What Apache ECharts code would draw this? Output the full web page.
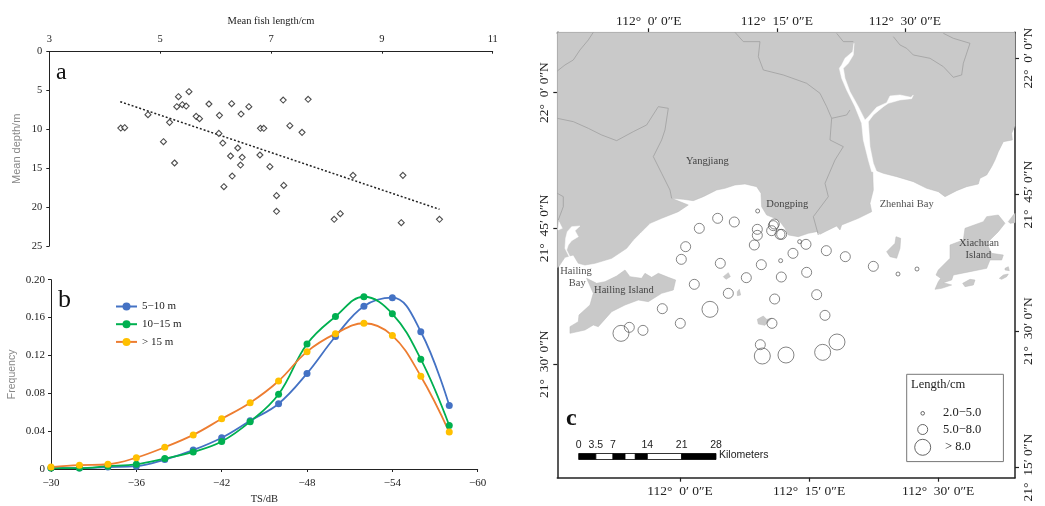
<!DOCTYPE html>
<html><head><meta charset="utf-8">
<script src="https://cdn.jsdelivr.net/npm/echarts@6/dist/echarts.min.js"></script>
<style>html,body{margin:0;padding:0;background:#fff}#c{width:1045px;height:506px}</style></head>
<body><div id="c"></div>
<script>
// Panel a: mean fish length (cm) and mean depth (m)
const meanLength = [4.29,4.36,4.78,5.17,5.06,5.26,5.33,5.52,5.30,5.40,5.47,5.65,5.71,5.88,6.07,6.29,6.46,6.60,6.06,6.13,6.40,6.27,6.48,6.45,6.80,6.98,6.30,6.15,6.81,6.87,7.22,7.67,7.34,7.56,7.23,7.10,7.10,8.14,8.25,8.48,9.38,9.35,10.04];
const meanDepth = [9.82,9.78,8.10,9.09,11.58,14.32,5.79,5.15,7.08,6.82,6.99,8.32,8.62,6.73,8.19,6.69,8.02,7.08,10.51,11.75,12.39,13.42,13.59,14.58,13.29,14.79,16.0,17.37,9.86,9.86,6.22,6.13,9.52,10.38,17.2,18.52,20.54,21.57,20.84,15.91,15.91,22.0,21.57];
const trendLength = [4.28,10.04];
const trendDepth = [6.43,20.28];
const lengthTicks = [3,5,7,9,11];

// Panel b: target strength frequency
const tsValues = [-30,-32,-34,-36,-38,-40,-42,-44,-46,-48,-50,-52,-54,-56,-58];
const freq5to10 = [0.001,0.001,0.002,0.003,0.010,0.020,0.033,0.051,0.069,0.101,0.140,0.172,0.181,0.145,0.067];
const freq10to15 = [0.001,0.001,0.003,0.005,0.011,0.018,0.029,0.050,0.079,0.132,0.161,0.182,0.164,0.116,0.046];
const freqOver15 = [0.002,0.004,0.005,0.012,0.023,0.036,0.053,0.070,0.093,0.124,0.143,0.154,0.141,0.098,0.039];

// Panel c: map-plane units (easting, southing)
const mainland = [[82,97],[1455,97],[1455,378],[1445,400],[1447,420],[1420,425],[1405,455],[1395,480],[1385,500],[1370,525],[1350,535],[1345,552],[1310,560],[1280,572],[1245,590],[1225,575],[1190,565],[1150,545],[1100,530],[1060,520],[1040,512],[1028,512],[1030,570],[1020,610],[1025,635],[985,655],[935,675],[930,690],[920,678],[885,695],[870,703],[860,695],[835,700],[805,710],[775,705],[765,685],[750,665],[735,655],[710,645],[695,620],[693,580],[680,560],[645,552],[615,555],[585,565],[560,570],[520,590],[490,602],[460,598],[425,595],[475,615],[445,635],[395,655],[360,670],[330,700],[310,720],[290,745],[245,775],[195,790],[165,795],[145,790],[130,765],[105,772],[85,802],[82,802]];
const hailingIsland = [[170,835],[200,850],[225,845],[260,828],[285,810],[300,830],[335,835],[345,820],[365,832],[385,820],[415,832],[437,840],[430,870],[395,880],[355,905],[325,900],[285,915],[245,935],[205,980],[190,975],[165,990],[120,1000],[120,980],[145,965],[147,945],[180,915],[190,880]];
const xiachuanIsland = [[1225,810],[1260,775],[1260,735],[1300,720],[1305,685],[1360,665],[1370,650],[1405,645],[1425,670],[1405,695],[1370,730],[1385,760],[1420,765],[1415,780],[1380,780],[1370,805],[1320,815],[1270,825],[1265,840],[1240,848],[1265,855],[1235,865],[1215,868],[1225,845],[1232,835],[1218,825]];
const islets = [
  [[1298,850],[1320,838],[1335,840],[1330,855],[1305,860]],
  [[1435,665],[1450,645],[1455,640],[1455,668],[1440,670]],
  [[1408,835],[1420,825],[1435,822],[1430,830],[1415,838]],
  [[1425,805],[1435,800],[1438,812],[1425,810]],
  [[1070,755],[1095,730],[1098,710],[1112,715],[1110,745],[1100,775],[1080,770]],
  [[580,830],[595,818],[601,830],[588,838]],
  [[622,875],[628,868],[632,885],[622,887]],
  [[682,958],[700,948],[710,958],[725,955],[705,976],[685,972]]
];
const waterways = [
  [[972,130],[968,155],[945,175],[935,195],[928,205],[935,235],[950,270],[975,320],[995,370],[1000,420],[1015,480],[1025,515],[1040,515],[1030,490],[1020,440],[1015,365],[1030,345],[1060,320],[1075,310],[1110,300],[1145,296],[1150,285],[1143,292],[1110,285],[1080,288],[1070,308],[1040,322],[1015,350],[1005,360],[985,320],[960,275],[945,235],[940,205],[955,190],[970,165]],
  [[112,695],[125,680],[150,678],[135,692],[145,710],[125,722],[115,735],[110,750],[120,770],[135,795],[120,775],[105,745],[107,715]],
  [[87,665],[97,685],[84,690]]
];
const boundaries = [
  [[82,213],[105,195],[130,180],[150,150],[175,120],[190,97]],
  [[82,355],[130,365],[175,385],[215,405],[260,422],[310,395],[350,375],[385,320],[415,325],[405,390],[395,420],[370,470],[395,520],[420,570],[425,595]],
  [[615,97],[640,125],[690,125],[685,170],[700,210],[760,225],[830,250],[870,280],[890,320],[905,355],[950,345],[960,330]],
  [[905,355],[900,420],[940,440],[915,480],[885,550],[895,590],[850,650],[865,705]],
  [[920,100],[940,125],[970,125]],
  [[1090,110],[1110,135],[1130,145],[1150,165],[1200,175],[1240,200],[1270,232],[1295,225],[1300,190],[1320,130],[1270,115],[1240,100]],
  [[82,580],[100,590],[100,620],[85,660]]
];
const smallSites = [[683,633],[809,725],[752,782],[1104,822],[1161,807]];
const mediumSites = [[563,655],[613,666],[508,685],[682,688],[682,706],[733,672],[730,677],[725,692],[750,703],[755,703],[828,733],[673,735],[467,740],[789,760],[889,752],[946,770],[1030,799],[454,778],[571,790],[694,794],[830,817],[649,833],[754,831],[493,853],[595,880],[860,884],[734,897],[397,926],[885,946],[451,970],[726,970],[298,982],[339,991],[691,1034]];
const largeSites = [[540,928],[273,1000],[921,1026],[697,1068],[768,1065],[878,1057]];
const placeNames = ['Yangjiang','Dongping','Zhenhai Bay','Xiachuan','Island','Hailing','Bay','Hailing Island'];
const placeEast = [532,772,1130,1347,1345,138,142,282];
const placeSouth = [485,613,613,730,767,813,850,870];
const topLonTicks = [112,112.25,112.5];
const bottomLonTicks = [112,112.25,112.5];
const leftLatTicks = [21.5,21.75,22];
const rightLatTicks = [21.25,21.5,21.75,22];
const scaleLabels = [0,3.5,7,14,21,28];
const scaleStops = [0,3.5,7,9.45,11.55,14,21,28];

const serif = '"Liberation Serif", serif';
const sans = '"Liberation Sans", sans-serif';
const ink = '#222';

function lonLabel(v){const deg=Math.floor(v+1e-6);const m=Math.round((v-deg)*60);return deg+'°  '+m+'′ 0″E';}
function latLabel(v){const deg=Math.floor(v+1e-6);const m=Math.round((v-deg)*60);return deg+'°  '+m+'′ 0″N';}

function polySeries(polys,fill,stroke,z){
  return {type:'custom',xAxisIndex:4,yAxisIndex:4,clip:false,silent:true,z:z,
    data:polys.map(p=>p[0]),
    renderItem:(params,api)=>({type:'polygon',shape:{points:polys[params.dataIndex].map(q=>api.coord(q))},style:{fill:fill,stroke:stroke,lineWidth:0.5}})};
}
function lineSeries(lines,z){
  return {type:'custom',xAxisIndex:4,yAxisIndex:4,clip:false,silent:true,z:z,
    data:lines.map(p=>p[0]),
    renderItem:(params,api)=>({type:'polyline',shape:{points:lines[params.dataIndex].map(q=>api.coord(q))},style:{fill:null,stroke:'#999',lineWidth:0.7}})};
}
function siteSeries(sites,size){
  return {type:'scatter',xAxisIndex:4,yAxisIndex:4,data:sites,symbol:'circle',symbolSize:size,z:5,silent:true,
    itemStyle:{color:'rgba(0,0,0,0)',borderColor:'#555',borderWidth:0.9}};
}
function tsSeries(name,values,lineColor,dotColor){
  return {name:name,type:'line',xAxisIndex:1,yAxisIndex:1,smooth:0.4,symbol:'circle',symbolSize:7,
    data:tsValues.map((t,i)=>[t,values[i]]),
    lineStyle:{color:lineColor,width:1.8},itemStyle:{color:dotColor,borderWidth:0}};
}
function mapLineAxis(pos,min,max,ticks,fmt,rotate,grid){
  const margins={top:4,bottom:7,left:6,right:6};
  return {type:'value',gridIndex:grid,position:pos,min:min,max:max,splitLine:{show:false},
    axisLine:{show:true,onZero:false,lineStyle:{color:ink,width:1.5}},
    axisTick:{show:true,length:4,customValues:ticks,lineStyle:{color:ink,width:1.2}},
    axisLabel:{customValues:ticks,formatter:fmt,rotate:rotate,color:ink,fontFamily:serif,fontSize:13.5,margin:margins[pos]}};
}

const option = {
  animation:false,backgroundColor:'#fff',
  legend:{data:['5−10 m','10−15 m','> 15 m'],orient:'vertical',left:110,top:296,itemWidth:21,itemHeight:10,itemGap:6.7,
    textStyle:{fontFamily:serif,fontSize:11,color:ink},selectedMode:false},
  grid:[
    {left:49.3,top:51.7,width:443.4,height:194.3},
    {left:51,top:279.7,width:426.7,height:189.6},
    {left:557.3,top:32.3,width:457.7,height:445.4},
    {left:578.7,top:453.5,width:137.3,height:6}
  ],
  xAxis:[
    {type:'value',gridIndex:0,position:'top',min:3,max:11,name:'Mean fish length/cm',nameLocation:'middle',nameGap:25,
      nameTextStyle:{fontFamily:serif,fontSize:10.5,color:ink},splitLine:{show:false},
      axisLine:{onZero:false,lineStyle:{color:ink,width:1}},
      axisTick:{inside:true,length:2,customValues:lengthTicks,lineStyle:{color:ink}},
      axisLabel:{customValues:lengthTicks,fontFamily:serif,fontSize:10.5,color:ink,margin:7}},
    {type:'value',gridIndex:1,position:'bottom',inverse:true,min:-60,max:-30,interval:6,name:'TS/dB',nameLocation:'middle',nameGap:25,
      nameTextStyle:{fontFamily:serif,fontSize:10.5,color:ink},splitLine:{show:false},
      axisLine:{onZero:false,lineStyle:{color:ink,width:1}},axisTick:{length:3,lineStyle:{color:ink}},
      axisLabel:{fontFamily:serif,fontSize:11,color:ink,margin:9,formatter:v=>String(v).replace('-','−')}},
    mapLineAxis('top',111.8216,112.7149,topLonTicks,lonLabel,0,2),
    mapLineAxis('bottom',111.7622,112.649,bottomLonTicks,lonLabel,0,2),
    {type:'value',gridIndex:2,min:82,max:1455,show:false},
    {type:'value',gridIndex:3,position:'top',min:0,max:28,splitLine:{show:false},axisLine:{show:false},axisTick:{show:false},
      axisLabel:{customValues:scaleLabels,fontFamily:sans,fontSize:10.5,color:ink,margin:3,formatter:v=>String(v)}}
  ],
  yAxis:[
    {type:'value',gridIndex:0,inverse:true,min:0,max:25,interval:5,name:'Mean depth/m',nameLocation:'middle',nameGap:27,
      nameTextStyle:{fontFamily:sans,fontSize:11,color:'#888'},splitLine:{show:false},
      axisLine:{show:true,onZero:false,lineStyle:{color:ink,width:1}},axisTick:{show:true,length:3,lineStyle:{color:ink}},
      axisLabel:{fontFamily:serif,fontSize:10.5,color:ink,margin:7}},
    {type:'value',gridIndex:1,min:0,max:0.2,interval:0.04,name:'Frequency',nameLocation:'middle',nameGap:33,
      nameTextStyle:{fontFamily:sans,fontSize:10.5,color:'#888'},splitLine:{show:false},
      axisLine:{show:true,onZero:false,lineStyle:{color:ink,width:1}},axisTick:{show:true,length:3,lineStyle:{color:ink}},
      axisLabel:{fontFamily:serif,fontSize:11,color:ink,margin:6,formatter:v=>v===0?'0':v.toFixed(2)}},
    mapLineAxis('left',21.291,22.111,leftLatTicks,latLabel,90,2),
    mapLineAxis('right',21.2316,22.0472,rightLatTicks,latLabel,90,2),
    {type:'value',gridIndex:2,inverse:true,min:97,max:1433,show:false},
    {type:'value',gridIndex:3,min:0,max:1,show:false}
  ],
  series:[
    {type:'scatter',xAxisIndex:0,yAxisIndex:0,symbol:'diamond',symbolSize:6,data:meanLength.map((x,i)=>[x,meanDepth[i]]),
      itemStyle:{color:'#fff',borderColor:'#222',borderWidth:1.1}},
    {type:'line',xAxisIndex:0,yAxisIndex:0,showSymbol:false,symbol:'none',data:trendLength.map((x,i)=>[x,trendDepth[i]]),
      lineStyle:{color:'#222',width:1.5,type:[2,2]},z:1},
    tsSeries('5−10 m',freq5to10,'#4472C4','#4472C4'),
    tsSeries('10−15 m',freq10to15,'#00B050','#00B050'),
    tsSeries('> 15 m',freqOver15,'#ED7D31','#FFC000'),
    polySeries([mainland,hailingIsland,xiachuanIsland].concat(islets),'#c9c9c9','#bbb',1),
    polySeries(waterways,'#fff','#fff',2),
    lineSeries(boundaries,3),
    siteSeries(smallSites,4),siteSeries(mediumSites,10),siteSeries(largeSites,16),
    {type:'scatter',xAxisIndex:4,yAxisIndex:4,symbolSize:1,z:6,silent:true,itemStyle:{color:'rgba(0,0,0,0)'},
      data:placeNames.map((n,i)=>({name:n,value:[placeEast[i],placeSouth[i]]})),
      label:{show:true,position:'inside',formatter:'{b}',fontFamily:serif,fontSize:10.5,color:ink}},
    {type:'custom',xAxisIndex:5,yAxisIndex:5,clip:false,silent:true,
      data:scaleStops.slice(0,-1).map((s,i)=>[s,scaleStops[i+1]]),encode:{x:[0,1]},
      renderItem:(params,api)=>{
        const a=api.coord([api.value(0),1]),b=api.coord([api.value(1),0]);
        const dark=[0,2,4,6].indexOf(params.dataIndex)>=0;
        return {type:'rect',shape:{x:a[0],y:a[1],width:b[0]-a[0],height:b[1]-a[1]},style:{fill:dark?'#000':'#fff',stroke:'#000',lineWidth:0.8}};
      }}
  ],
  graphic:[
    {type:'text',left:56,top:61,style:{text:'a',font:'24px '+serif,fill:'#111'}},
    {type:'text',left:58,top:287,style:{text:'b',font:'26px '+serif,fill:'#111'}},
    {type:'text',left:566,top:407,style:{text:'c',font:'bold 24px '+serif,fill:'#111'}},
    {type:'text',left:719,top:450,style:{text:'Kilometers',font:'10.5px '+sans,fill:ink}},
    {type:'text',left:578,top:40,style:{text:'N',font:'20px '+sans,fill:'#111'}},
    {type:'polygon',shape:{points:[[585,62.3],[571.7,108.3],[585,90.7]]},style:{fill:'#000',stroke:'#000',lineWidth:1}},
    {type:'polygon',shape:{points:[[585,62.3],[599,108.3],[585,90.7]]},style:{fill:'transparent',stroke:'#000',lineWidth:1.3}},
    {type:'rect',shape:{x:906.7,y:374.3,width:96.7,height:87.3},style:{fill:'#fff',stroke:'#777',lineWidth:1},z:8},
    {type:'text',left:911,top:378,z:9,style:{text:'Length/cm',font:'12.5px '+serif,fill:ink}},
    {type:'circle',shape:{cx:922.7,cy:413.3,r:1.8},style:{fill:'transparent',stroke:'#555',lineWidth:0.9},z:9},
    {type:'circle',shape:{cx:922.7,cy:429.5,r:5},style:{fill:'transparent',stroke:'#555',lineWidth:0.9},z:9},
    {type:'circle',shape:{cx:922.7,cy:447.3,r:8},style:{fill:'transparent',stroke:'#555',lineWidth:0.9},z:9},
    {type:'text',left:943,top:406,z:9,style:{text:'2.0−5.0',font:'12.5px '+serif,fill:ink}},
    {type:'text',left:943,top:423,z:9,style:{text:'5.0−8.0',font:'12.5px '+serif,fill:ink}},
    {type:'text',left:945,top:440,z:9,style:{text:'> 8.0',font:'12.5px '+serif,fill:ink}}
  ]
};
echarts.init(document.getElementById('c')).setOption(option);
</script></body></html>
